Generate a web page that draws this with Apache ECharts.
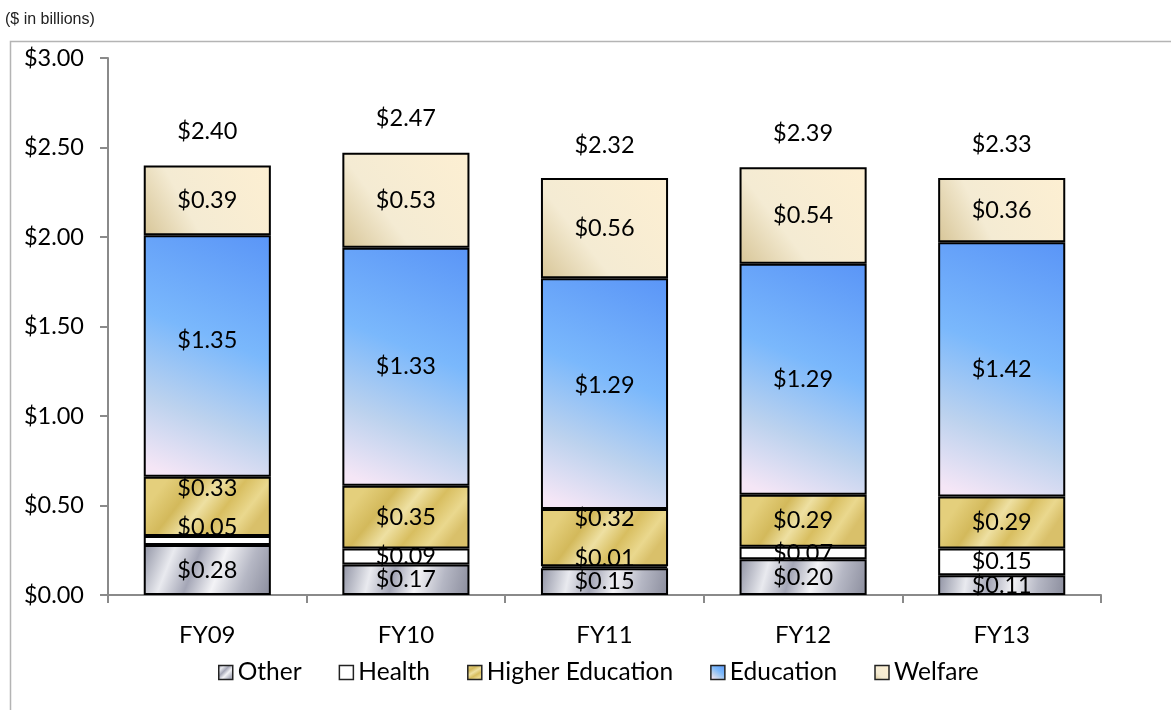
<!DOCTYPE html>
<html>
<head>
<meta charset="utf-8">
<script src="https://cdn.jsdelivr.net/npm/echarts@6/dist/echarts.min.js"></script>
<style>html,body{margin:0;padding:0;background:#fff}#c{width:1171px;height:710px}</style>
</head>
<body>
<div id="c"></div>
<script>
var categories = ['FY09', 'FY10', 'FY11', 'FY12', 'FY13'];
var other = [0.28, 0.17, 0.15, 0.20, 0.11];
var health = [0.05, 0.09, 0.01, 0.07, 0.15];
var higherEd = [0.33, 0.35, 0.32, 0.29, 0.29];
var education = [1.35, 1.33, 1.29, 1.29, 1.42];
var welfare = [0.39, 0.53, 0.56, 0.54, 0.36];
var totals = [2.40, 2.47, 2.32, 2.39, 2.33];
var yTicks = [0, 0.5, 1, 1.5, 2, 2.5, 3];

// label nudges (Excel-style overlap avoidance), pixels upward, by series name and category index
var labelNudge = {
  'Health': {0: -13, 2: -9},
  'Higher Education': {0: -18, 2: -19},
  'Education': {0: -16, 2: -8}
};

var FONT = 'Lato';
var FS = 23.5;
function lg(stops, x, y, x2, y2) {
  return new echarts.graphic.LinearGradient(x, y, x2, y2, stops.map(function (s) { return {offset: s[0], color: s[1]}; }));
}
var fills = {
  'Other': lg([[0, '#8f92a3'], [0.22, '#e9eaef'], [0.4, '#a4a6b6'], [0.58, '#f3f3f6'], [0.78, '#b5b7c4'], [1, '#8a8c9c']], 0, 0, 1, 1),
  'Health': '#ffffff',
  'Higher Education': lg([[0, '#e4cf7c'], [0.25, '#d3b95b'], [0.45, '#eee0a2'], [0.65, '#d8be60'], [0.85, '#ead88e'], [1, '#d9c06a']], 0.2, 0, 0.8, 1),
  'Education': lg([[0, '#5a95f7'], [0.45, '#7ab8fc'], [0.75, '#bcd2ee'], [1, '#f5e6f6']], 1, 0, 0.25, 1),
  'Welfare': lg([[0, '#fdefd2'], [0.65, '#f4ebd3'], [1, '#d7c597']], 1, 0, 0, 1)
};
function money(p) { return '$' + (+p.value).toFixed(2); }

function mk(name, vals) {
  return {
    name: name,
    type: 'bar',
    stack: 'total',
    barWidth: '64%',
    itemStyle: {color: fills[name], borderColor: '#000', borderWidth: 2},
    label: {show: true, position: 'inside', color: '#000', fontFamily: FONT, fontSize: FS, formatter: money},
    data: vals.map(function (v, i) {
      var d = {value: v};
      var n = labelNudge[name];
      if (n && n[i] !== undefined) d.label = {offset: [0, n[i]]};
      return d;
    })
  };
}

var chart = echarts.init(document.getElementById('c'));
chart.setOption({
  animation: false,
  grid: {left: 108, right: 70, top: 58, bottom: 115},
  graphic: [
    {type: 'rect', left: 8, top: 39, shape: {width: 1180, height: 700}, style: {fill: 'none', stroke: '#b4b4b4', lineWidth: 1.5}, silent: true},
    {type: 'text', left: 5, top: 12, style: {text: '($ in billions)', font: '16px "Liberation Sans", Arial', fill: '#222'}}
  ],
  legend: {
    data: ['Other', 'Health', 'Higher Education', 'Education', 'Welfare'],
    bottom: 20, left: 213,
    itemWidth: 14, itemHeight: 14, itemGap: 37,
    icon: 'rect',
    itemStyle: {borderColor: '#222', borderWidth: 1.5},
    textStyle: {fontFamily: FONT, fontSize: 24.5, color: '#000'}
  },
  xAxis: {
    type: 'category', data: categories,
    axisLine: {lineStyle: {color: '#8a8a8a', width: 2}},
    axisTick: {show: true, length: 8, lineStyle: {color: '#8a8a8a', width: 2}},
    axisLabel: {fontFamily: FONT, fontSize: 24, color: '#000', margin: 28}
  },
  yAxis: {
    type: 'value', min: yTicks[0], max: yTicks[yTicks.length - 1], interval: 0.5,
    splitLine: {show: false},
    axisLine: {show: true, lineStyle: {color: '#8a8a8a', width: 2}},
    axisTick: {show: true, length: 8, lineStyle: {color: '#8a8a8a', width: 2}},
    axisLabel: {fontFamily: FONT, fontSize: FS, color: '#000', margin: 24,
      formatter: function (v) { return '$' + v.toFixed(2); }}
  },
  series: [
    mk('Other', other),
    mk('Health', health),
    mk('Higher Education', higherEd),
    mk('Education', education),
    mk('Welfare', welfare),
    {
      name: 'Total', type: 'bar', silent: true, barWidth: '64%', barGap: '-100%', z: 1,
      itemStyle: {color: 'rgba(255,255,255,0)', borderWidth: 0},
      label: {show: true, position: 'top', distance: 22, color: '#000', fontFamily: FONT, fontSize: FS, formatter: money},
      data: totals
    }
  ]
});
</script>
</body>
</html>
